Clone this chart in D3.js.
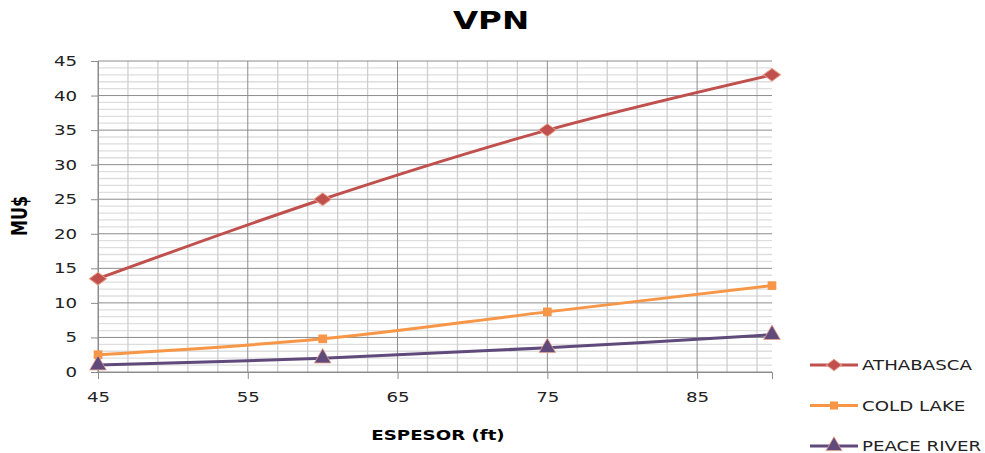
<!DOCTYPE html>
<html>
<head>
<meta charset="utf-8">
<script src="https://cdn.jsdelivr.net/npm/d3@7"></script>
<style>
  body { margin: 0; background: #fff; }
  text { font-family: "DejaVu Sans", Verdana, sans-serif; }
</style>
</head>
<body>
<div id="container"></div>
<script>
/* DATA */
var espesor = [45, 60, 75, 90]
var athabasca = [13.5, 25, 35, 43]
var coldLake = [2.5, 4.8, 8.7, 12.5]
var peaceRiver = [1.0, 2.0, 3.5, 5.4]
var seriesNames = ["ATHABASCA", "COLD LAKE", "PEACE RIVER"]
var xTicks = [45, 55, 65, 75, 85]
var yTicks = [0, 5, 10, 15, 20, 25, 30, 35, 40, 45]

/* CONSTANTS */
var W = 985, H = 453
var margin = {top: 61, left: 98, right: 213, bottom: 81}
var width = W - margin.left - margin.right,
    height = H - margin.top - margin.bottom
var SX = 1.3   // the original picture is stretched sideways
var colors = ["#C0504D", "#F79646", "#604A7B"]
var shapes = [d3.symbolSquare, d3.symbolSquare, d3.symbolTriangle]

const svg = d3.select("#container")
  .append("svg")
  .attr("width", W)
  .attr("height", H)

const g = svg.append("g")
  .attr("transform", "translate(" + margin.left + "," + margin.top + ")")

/* SCALES */
const xScale = d3.scaleLinear().domain([45, 90]).range([0, width])
const yScale = d3.scaleLinear().domain([0, 45]).range([height, 0])

// minor grid
g.append("g").selectAll("line")
  .data(d3.range(1, 45).filter(v => v % 5 != 0))
  .join("line")
  .attr("x1", 0).attr("x2", width)
  .attr("y1", d => yScale(d)).attr("y2", d => yScale(d))
  .attr("stroke", "#dedede").attr("stroke-width", 1.3)

g.append("g").selectAll("line")
  .data(d3.range(47, 90, 2).filter(v => (v - 45) % 10 != 0))
  .join("line")
  .attr("y1", 0).attr("y2", height)
  .attr("x1", d => xScale(d)).attr("x2", d => xScale(d))
  .attr("stroke", "#cfcfcf").attr("stroke-width", 1.3)

// major grid
g.append("g").selectAll("line")
  .data(yTicks)
  .join("line")
  .attr("x1", 0).attr("x2", width)
  .attr("y1", d => yScale(d)).attr("y2", d => yScale(d))
  .attr("stroke", "#8c8c8c").attr("stroke-width", 1)

g.append("g").selectAll("line")
  .data(xTicks)
  .join("line")
  .attr("y1", 0).attr("y2", height)
  .attr("x1", d => xScale(d)).attr("x2", d => xScale(d))
  .attr("stroke", "#8c8c8c").attr("stroke-width", 1)

/* AXES */
const yAxisGroup = g.append("g")
  .call(d3.axisLeft(yScale).tickValues(yTicks).tickSize(7).tickPadding(12))
const xAxisGroup = g.append("g")
  .attr("transform", "translate(0," + height + ")")
  .call(d3.axisBottom(xScale).tickValues(xTicks).tickSize(7).tickPadding(13))

g.selectAll(".domain").attr("stroke", "#8c8c8c")
g.selectAll(".tick line").attr("stroke", "#8c8c8c")
g.selectAll(".tick text")
  .attr("fill", "#222")
  .style("font-size", "14px")
  .style("font-family", "DejaVu Sans, Verdana, sans-serif")
  .attr("transform", "scale(" + SX + ",1)")
yAxisGroup.selectAll(".tick text").attr("x", -21 / SX)

function marker(k, size) {
  return d3.symbol().type(shapes[k]).size(size)()
}
function markerTransform(k) {
  // diamond = square turned 45 deg and widened
  return k == 0 ? " scale(1.35,1) rotate(45)" : ""
}

/* LINES */
const allSeries = [athabasca, coldLake, peaceRiver]
const line = d3.line()
  .x((d, i) => xScale(espesor[i]))
  .y(d => yScale(d))
  .curve(d3.curveCatmullRom)

allSeries.forEach((vals, k) => {
  g.append("path")
    .datum(vals)
    .attr("d", line)
    .attr("fill", "none")
    .attr("stroke", colors[k])
    .attr("stroke-width", 3)

  g.append("g").selectAll("path")
    .data(vals)
    .join("path")
    .attr("transform", (d, i) => "translate(" + xScale(espesor[i]) + "," + yScale(d) + ")" + markerTransform(k))
    .attr("d", marker(k, k == 2 ? 120 : (k == 0 ? 82 : 75)))
    .attr("fill", colors[k])
    .attr("stroke", k == 1 ? "none" : "#e8a08a")
    .attr("stroke-width", 0.8)
})

/* TITLES */
svg.append("text")
  .attr("transform", "translate(491,29) scale(" + SX + ",1)")
  .attr("text-anchor", "middle")
  .style("font-size", "25px").style("font-weight", "bold")
  .text("VPN")

svg.append("text")
  .attr("transform", "translate(27,216) rotate(-90) scale(1," + SX + ")")
  .attr("text-anchor", "middle")
  .style("font-size", "16px").style("font-weight", "bold")
  .text("MU$")

svg.append("text")
  .attr("transform", "translate(438,440) scale(" + SX + ",1)")
  .attr("text-anchor", "middle")
  .style("font-size", "14px").style("font-weight", "bold")
  .text("ESPESOR (ft)")

/* LEGEND */
const legend = svg.append("g")
seriesNames.forEach((name, k) => {
  var ly = 365 + k * 40.5
  legend.append("line")
    .attr("x1", 810).attr("x2", 858)
    .attr("y1", ly).attr("y2", ly)
    .attr("stroke", colors[k]).attr("stroke-width", 3)
  legend.append("path")
    .attr("transform", "translate(834," + ly + ")" + markerTransform(k))
    .attr("d", marker(k, k == 2 ? 110 : (k == 0 ? 65 : 65)))
    .attr("fill", colors[k])
    .attr("stroke", k == 1 ? "none" : "#e8a08a")
    .attr("stroke-width", 0.8)
  legend.append("text")
    .attr("transform", "translate(862," + (ly + 5) + ") scale(" + SX + ",1)")
    .style("font-size", "14px")
    .attr("fill", "#222")
    .text(name)
})
</script>
</body>
</html>
